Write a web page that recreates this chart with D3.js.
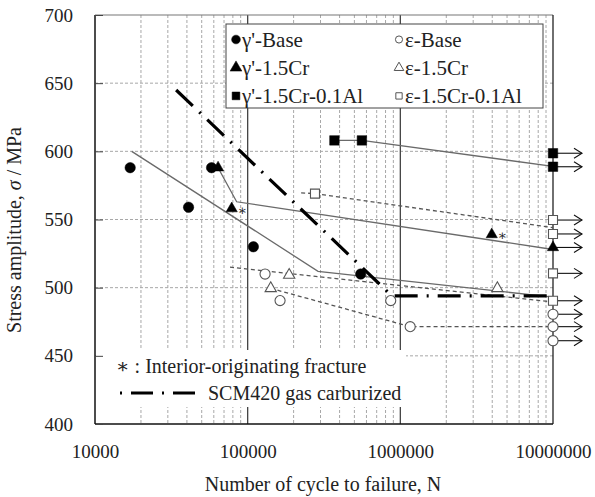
<!DOCTYPE html>
<html>
<head>
<meta charset="utf-8">
<script src="https://cdn.jsdelivr.net/npm/d3@7"></script>
<style>
  body { margin: 0; background: #fff; }
  svg text { font-family: "Liberation Serif", "Times New Roman", Times, Tinos, "DejaVu Serif", serif; fill: #222; }
</style>
</head>
<body>
<script>
const width = 595;
const height = 497;

// axis ticks
const xTicks = [1e4, 1e5, 1e6, 1e7];
const yTicks = [400, 450, 500, 550, 600, 650, 700];

// failures (N, stress)
const gBaseN = [17000, 41000, 58000, 109000, 550000];
const gBaseS = [588, 559, 588, 530, 510];
const gCrN = [64000, 78600, 3970000];
const gCrS = [588, 558, 539];
const gAlN = [370000, 560000];
const gAlS = [608, 608];
const eBaseN = [130000, 163000, 865000, 1160000];
const eBaseS = [510, 490.5, 490.5, 471.4];
const eCrN = [141600, 187000, 4320000];
const eCrS = [499.5, 509.3, 499.5];
const eAlN = [276000];
const eAlS = [569];

// run-outs at 1e7 cycles
const runoutN = 1e7;
const gCrRunS = [529.5];
const gAlRunS = [598.6, 588.7];
const eAlRunS = [549.6, 539.4, 510.5, 490.4];
const eBaseRunS = [480.5, 471.4, 461.1];

// interior-originating fracture marks
const interiorN = [78600, 3970000];
const interiorS = [558, 539];

// fitted lines
const fitGBaseN = [17400, 289000, 1e7], fitGBaseS = [600, 512, 493];
const fitGCrN = [64000, 84700, 1e7], fitGCrS = [588, 563, 528];
const fitGAlN = [370000, 560000, 1e7], fitGAlS = [608, 608, 589];
const fitEAN = [76600, 1e7], fitEAS = [515, 489.5];
const fitEBN = [141600, 1160000, 1e7], fitEBS = [499.5, 471.4, 471.4];
const fitEAlN = [224000, 276000, 1e7], fitEAlS = [569.5, 569, 544];
const scmN = [34000, 880000, 1e7], scmS = [645, 494, 494];

const pLeft = 95, pRight = 553, pTop = 15, pBottom = 424;
const serif = "'Liberation Serif', 'Times New Roman', Times, Tinos, 'DejaVu Serif', serif";

const svg = d3.select("body").append("svg")
  .attr("width", width)
  .attr("height", height);

const x = d3.scaleLog().domain([1e4, 1e7]).range([pLeft, pRight]);
const y = d3.scaleLinear().domain([400, 700]).range([pBottom, pTop]);

// grid
const minor = [];
[1e4, 1e5, 1e6].forEach(function (d) {
  for (let k = 2; k <= 9; k++) minor.push(d * k);
});
svg.selectAll("line.vminor").data(minor).enter().append("line")
  .attr("x1", d => x(d)).attr("x2", d => x(d))
  .attr("y1", pTop).attr("y2", pBottom)
  .attr("stroke", "#a8a8a8").attr("stroke-width", 1)
  .attr("stroke-dasharray", "3,2");
svg.selectAll("line.hgrid").data([450, 500, 550, 600, 650]).enter().append("line")
  .attr("x1", pLeft).attr("x2", pRight)
  .attr("y1", d => y(d)).attr("y2", d => y(d))
  .attr("stroke", "#a8a8a8").attr("stroke-width", 1)
  .attr("stroke-dasharray", "3,2");
svg.selectAll("line.vmajor").data([1e5, 1e6]).enter().append("line")
  .attr("x1", d => x(d)).attr("x2", d => x(d))
  .attr("y1", pTop).attr("y2", pBottom)
  .attr("stroke", "#444").attr("stroke-width", 1.3);

// annotation box covering the grid
svg.append("rect")
  .attr("x", pLeft + 1).attr("y", 350)
  .attr("width", 310).attr("height", 57)
  .attr("fill", "#fff");

// border
svg.append("line").attr("x1", pLeft).attr("x2", pRight).attr("y1", pTop).attr("y2", pTop)
  .attr("stroke", "#777").attr("stroke-width", 1.2);
svg.append("line").attr("x1", pRight).attr("x2", pRight).attr("y1", pTop).attr("y2", pBottom)
  .attr("stroke", "#222").attr("stroke-width", 1.3);
svg.append("line").attr("x1", pLeft).attr("x2", pLeft).attr("y1", pTop).attr("y2", pBottom)
  .attr("stroke", "#111").attr("stroke-width", 1.5);
svg.append("line").attr("x1", pLeft).attr("x2", pRight).attr("y1", pBottom).attr("y2", pBottom)
  .attr("stroke", "#111").attr("stroke-width", 1.5);

// axes
const yAxis = svg.append("g")
  .attr("transform", "translate(" + pLeft + ",0)")
  .call(d3.axisLeft(y).tickValues(yTicks).tickSizeInner(-8).tickSizeOuter(0).tickPadding(22));
yAxis.attr("font-family", serif);
yAxis.select(".domain").remove();
yAxis.selectAll("line").attr("stroke", "#444");
yAxis.selectAll("text").attr("font-size", 19).attr("fill", "#222");

const xAxis = svg.append("g")
  .attr("transform", "translate(0," + pBottom + ")")
  .call(d3.axisBottom(x).tickValues(xTicks).tickFormat(d3.format("d")).tickSize(0).tickPadding(21));
xAxis.attr("font-family", serif);
xAxis.select(".domain").remove();
xAxis.selectAll("text").attr("font-size", 19).attr("fill", "#222");

svg.append("text")
  .attr("x", (pLeft + pRight) / 2 - 1).attr("y", 491)
  .attr("text-anchor", "middle").attr("font-size", 20)
  .text("Number of cycle to failure, N");

svg.append("text")
  .attr("transform", "translate(21,230) rotate(-90)")
  .attr("text-anchor", "middle").attr("font-size", 20)
  .html("Stress amplitude, <tspan font-style='italic'>σ</tspan> / MPa");

// fitted lines
const line = d3.line().x(d => x(d[0])).y(d => y(d[1]));
function drawFit(ns, ss, dashed) {
  svg.append("path")
    .datum(ns.map((n, i) => [n, ss[i]]))
    .attr("d", line)
    .attr("fill", "none")
    .attr("stroke", dashed ? "#555" : "#6a6a6a")
    .attr("stroke-width", 1.3)
    .attr("stroke-dasharray", dashed ? "4,3" : null);
}
drawFit(fitGBaseN, fitGBaseS, false);
drawFit(fitGCrN, fitGCrS, false);
drawFit(fitGAlN, fitGAlS, false);
drawFit(fitEAN, fitEAS, true);
drawFit(fitEBN, fitEBS, true);
drawFit(fitEAlN, fitEAlS, true);

svg.append("path")
  .datum(scmN.map((n, i) => [n, scmS[i]]))
  .attr("d", line)
  .attr("fill", "none")
  .attr("stroke", "#000")
  .attr("stroke-width", 3.2)
  .attr("stroke-dasharray", "23,9,2,9");

// run-out arrows
const allRuns = gCrRunS.concat(gAlRunS, eAlRunS, eBaseRunS);
const arrows = svg.selectAll("g.arrow").data(allRuns).enter().append("g")
  .attr("transform", d => "translate(" + x(runoutN) + "," + y(d) + ")");
arrows.append("line").attr("x1", 0).attr("x2", 29).attr("y1", 0).attr("y2", 0)
  .attr("stroke", "#111").attr("stroke-width", 1.1);
arrows.append("path").attr("d", "M21,-5L29,0L21,5")
  .attr("fill", "none").attr("stroke", "#111").attr("stroke-width", 1.1);

// markers
const sym = {
  circle: d3.symbol().type(d3.symbolCircle),
  triangle: d3.symbol().type(d3.symbolTriangle),
  square: d3.symbol().type(d3.symbolSquare)
};
function drawPts(ns, ss, type, size, open) {
  svg.selectAll(null).data(ns.map((n, i) => [n, ss[i]])).enter().append("path")
    .attr("d", sym[type].size(size)())
    .attr("transform", d => "translate(" + x(d[0]) + "," + y(d[1]) + ")")
    .attr("fill", open ? "#fff" : "#000")
    .attr("stroke", open ? "#555" : "#000")
    .attr("stroke-width", open ? 1.1 : 0.5);
}
drawPts(eBaseN, eBaseS, "circle", 80, true);
drawPts(eBaseRunS.map(() => runoutN), eBaseRunS, "circle", 80, true);
drawPts(eCrN, eCrS, "triangle", 55, true);
drawPts(eAlN, eAlS, "square", 81, true);
drawPts(eAlRunS.map(() => runoutN), eAlRunS, "square", 81, true);
drawPts(gBaseN, gBaseS, "circle", 85, false);
drawPts(gCrN, gCrS, "triangle", 55, false);
drawPts(gCrRunS.map(() => runoutN), gCrRunS, "triangle", 55, false);
drawPts(gAlN, gAlS, "square", 90, false);
drawPts(gAlRunS.map(() => runoutN), gAlRunS, "square", 90, false);

svg.selectAll("text.star").data(interiorN.map((n, i) => [n, interiorS[i]])).enter().append("text")
  .attr("x", d => x(d[0]) + 6).attr("y", d => y(d[1]) + 6)
  .attr("font-size", 14).attr("fill", "#333")
  .text("∗");

// legend
svg.append("rect")
  .attr("x", 226).attr("y", 24).attr("width", 317).attr("height", 84)
  .attr("fill", "#fff").attr("stroke", "#444").attr("stroke-width", 1);
const legendItems = [
  { label: "γ'-Base", type: "circle", open: false, col: 0, row: 0 },
  { label: "γ'-1.5Cr", type: "triangle", open: false, col: 0, row: 1 },
  { label: "γ'-1.5Cr-0.1Al", type: "square", open: false, col: 0, row: 2 },
  { label: "ε-Base", type: "circle", open: true, col: 1, row: 0 },
  { label: "ε-1.5Cr", type: "triangle", open: true, col: 1, row: 1 },
  { label: "ε-1.5Cr-0.1Al", type: "square", open: true, col: 1, row: 2 }
];
const leg = svg.selectAll("g.leg").data(legendItems).enter().append("g")
  .attr("transform", d => "translate(" + (d.col ? 399 : 236) + "," + (39.5 + d.row * 28.2) + ")");
leg.append("path")
  .attr("d", d => sym[d.type].size(d.open ? 40 : 60)())
  .attr("fill", d => d.open ? "#fff" : "#000")
  .attr("stroke", d => d.open ? "#555" : "#000")
  .attr("stroke-width", d => d.open ? 1 : 0.5);
leg.append("text")
  .attr("x", 6).attr("y", 7)
  .attr("font-size", 21)
  .text(d => d.label);

// annotation
svg.append("text")
  .attr("x", 116).attr("y", 373).attr("font-size", 20)
  .text("∗ : Interior-originating fracture");
svg.append("line")
  .attr("x1", 120).attr("x2", 199).attr("y1", 393).attr("y2", 393)
  .attr("stroke", "#000").attr("stroke-width", 3.2)
  .attr("stroke-dasharray", "2,9,22,9");
svg.append("text")
  .attr("x", 208).attr("y", 400).attr("font-size", 20)
  .text("SCM420 gas carburized");
</script>
</body>
</html>
